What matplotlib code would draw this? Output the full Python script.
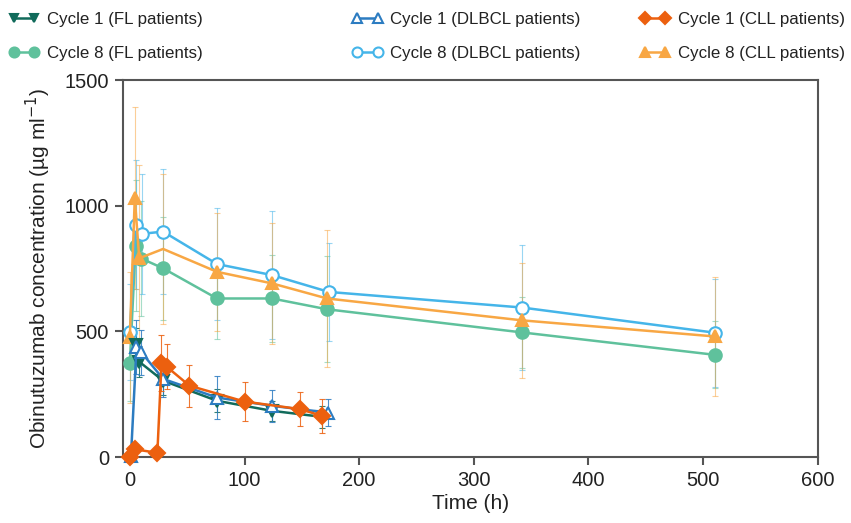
import matplotlib.pyplot as plt

plt.rcParams['font.family'] = ['Liberation Sans', 'DejaVu Sans']

# Cycle 1 data (h, ug/ml, SD)
c1_fl_t = [5.8, 8, 29, 76, 124, 168]
c1_fl_v = [444, 380, 304, 224, 184, 160]
c1_fl_sd = [70, 60, 55, 45, 40, 45]

c1_dlbcl_t = [1, 5.8, 10, 29, 76, 124, 173]
c1_dlbcl_v = [5, 437, 417, 311, 237, 204, 177]
c1_dlbcl_sd = [3, 107, 90, 70, 87, 64, 55]

c1_cll_t = [0, 4.4, 24, 27.6, 32, 52, 100, 148, 168]
c1_cll_v = [0, 31, 17, 373, 360, 284, 221, 191, 164]
c1_cll_sd = [2, 10, 8, 111, 91, 84, 76, 66, 67]

# Cycle 8 data
c8_fl_t = [0, 5, 10, 29, 76, 124, 172, 342, 510]
c8_fl_v = [373, 841, 790, 751, 631, 631, 588, 496, 407]
c8_fl_sd = [150, 260, 230, 206, 160, 173, 210, 140, 134]

c8_dlbcl_t = [0, 5.2, 10.2, 29, 76, 124, 173.6, 342, 510]
c8_dlbcl_v = [497, 924, 888, 897, 768, 724, 657, 595, 495]
c8_dlbcl_sd = [190, 256, 240, 250, 223, 253, 194, 250, 215]

c8_cll_t = [0, 4.3, 8.2, 29, 76, 124, 172, 342, 510]
c8_cll_v = [477, 1031, 791, 828, 737, 691, 631, 544, 480]
c8_cll_sd = [260, 362, 369, 300, 234, 242, 273, 230, 235]

series = [
    # t, v, sd, label, color, marker, filled, cycle8
    (c1_fl_t, c1_fl_v, c1_fl_sd, "Cycle 1 (FL patients)", "#116b5b", "v", True, False),
    (c8_fl_t, c8_fl_v, c8_fl_sd, "Cycle 8 (FL patients)", "#5fc19c", "o", True, True),
    (c1_dlbcl_t, c1_dlbcl_v, c1_dlbcl_sd, "Cycle 1 (DLBCL patients)", "#2c7cc1", "^", False, False),
    (c8_dlbcl_t, c8_dlbcl_v, c8_dlbcl_sd, "Cycle 8 (DLBCL patients)", "#45b5e9", "o", False, True),
    (c1_cll_t, c1_cll_v, c1_cll_sd, "Cycle 1 (CLL patients)", "#ec600f", "D", True, False),
    (c8_cll_t, c8_cll_v, c8_cll_sd, "Cycle 8 (CLL patients)", "#f8a744", "^", True, True),
]

fig = plt.figure(figsize=(8.51, 5.23), dpi=100)
ax = fig.add_axes([0.1445, 0.126, 0.8165, 0.721])

# draw cycle 8 first (behind), then cycle 1
order = [1, 3, 5, 0, 2, 4]
handles = {}
for i in order:
    t, v, sd, label, color, marker, filled, c8 = series[i]
    ax.errorbar(t, v, yerr=sd, fmt='none', ecolor=color, elinewidth=0.8,
                capsize=2.5, capthick=0.8, alpha=0.55 if c8 else 0.85, zorder=2)
    ms = 8 if marker in ("D", "v") else 9
    mk = list(range(len(t)))
    if label == "Cycle 8 (CLL patients)":
        mk = [k for k in mk if k != 3]
    ln, = ax.plot(t, v, color=color, lw=1.8, marker=marker, markersize=ms,
                  markerfacecolor=color if filled else "white",
                  markeredgecolor=color, markeredgewidth=1.5,
                  markevery=mk, clip_on=False, zorder=3, label=label)
    handles[i] = ln

ax.set_xlim(-6, 600)
ax.set_ylim(0, 1500)
ax.set_xticks(range(0, 601, 100))
ax.set_yticks([0, 500, 1000, 1500])
for s in ax.spines.values():
    s.set_color("#555555")
    s.set_linewidth(1.5)
ax.tick_params(direction='out', length=6, width=1.5, color="#555555",
               labelsize=14.5, labelcolor="#222222", pad=4)
ax.set_xlabel("Time (h)", fontsize=15, color="#222222", labelpad=3)
ax.set_ylabel("Obinutuzumab concentration (µg ml$^{-1}$)", fontsize=15,
              color="#222222", labelpad=8)

# three legend columns placed separately
col_x = [0.006, 0.410, 0.748]
for c in range(3):
    hs = [handles[2 * c], handles[2 * c + 1]]
    labs = [series[2 * c][3], series[2 * c + 1][3]]
    leg = fig.legend(hs, labs, loc="upper left", bbox_to_anchor=(col_x[c], 0.984),
                     frameon=False, fontsize=12.2, numpoints=2, handlelength=1.8,
                     handletextpad=0.45, labelspacing=1.15, borderpad=0.2,
                     borderaxespad=0.0, markerscale=0.8)
    for txt in leg.get_texts():
        txt.set_color("#222222")

fig.savefig("out.png", dpi=100)
